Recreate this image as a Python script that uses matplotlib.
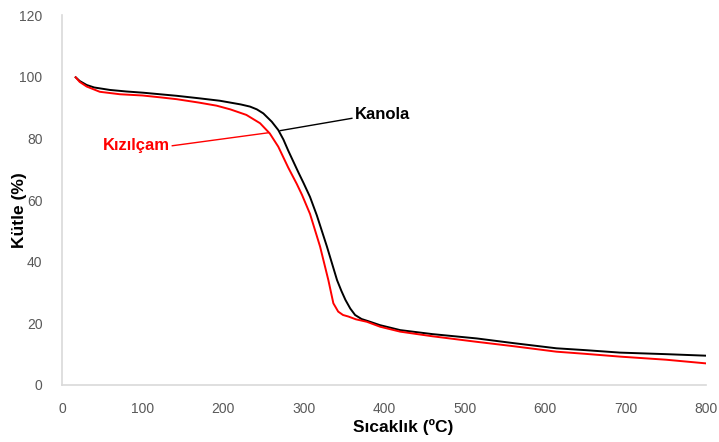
import matplotlib
matplotlib.use("Agg")
import matplotlib.pyplot as plt

plt.rcParams['font.family'] = ['Liberation Sans', 'DejaVu Sans']

kanola_T = [17, 22, 30.7, 40, 59.6, 80, 101, 142.5, 170, 196, 209, 222, 233.5, 242, 250, 260.5, 268.6, 275, 281, 293.5, 300, 308, 316.5, 329, 341.6, 347, 352, 358, 364, 372, 382.6, 395, 420, 460, 515, 560, 614, 650, 693, 750, 800]
kanola_m = [99.8, 98.6, 97.3, 96.5, 95.7, 95.2, 94.8, 93.8, 93.0, 92.2, 91.6, 91.0, 90.3, 89.4, 88.1, 85.4, 82.7, 79.6, 76.0, 69.0, 65.5, 61.0, 55.0, 44.9, 34.0, 30.5, 27.6, 24.8, 22.7, 21.4, 20.5, 19.4, 17.8, 16.5, 15.1, 13.6, 11.9, 11.3, 10.5, 10.0, 9.5]

kizil_T = [17, 22, 30.7, 47, 72, 100, 122, 142.5, 170, 192, 209, 229, 246, 258, 268.6, 281, 291.6, 298, 308, 320.5, 330.8, 337, 343, 349, 355.7, 365, 378.6, 395, 420, 460, 515, 560, 614, 650, 693, 750, 800]
kizil_m = [99.8, 98.3, 96.8, 95.1, 94.3, 93.9, 93.3, 92.7, 91.6, 90.6, 89.4, 87.6, 84.9, 81.6, 77.3, 70.5, 65.2, 61.7, 55.5, 44.9, 34.0, 26.5, 23.8, 22.7, 22.2, 21.3, 20.5, 18.9, 17.3, 15.8, 14.0, 12.6, 10.8, 10.1, 9.2, 8.2, 7.0]

x_ticks = [0, 100, 200, 300, 400, 500, 600, 700, 800]
y_ticks = [0, 20, 40, 60, 80, 100, 120]

fig = plt.figure(figsize=(7.19, 4.42), dpi=100)
ax = fig.add_axes([0.0862, 0.129, 0.896, 0.837])

ax.plot(kanola_T, kanola_m, color='black', lw=1.4)
ax.plot(kizil_T, kizil_m, color='#ff0000', lw=1.4)

ax.set_xlim(0, 800)
ax.set_ylim(0, 120)
ax.set_xticks(x_ticks)
ax.set_yticks(y_ticks)
ax.tick_params(length=0, labelsize=10, colors='#595959')
ax.tick_params(axis='x', pad=12)
ax.tick_params(axis='y', pad=14)

for s in ['top', 'right']:
    ax.spines[s].set_visible(False)
for s in ['left', 'bottom']:
    ax.spines[s].set_color('#d9d9d9')
    ax.spines[s].set_linewidth(1.2)

ax.set_xlabel('Sıcaklık (ºC)', fontsize=12.5, fontweight='bold')
ax.set_ylabel('Kütle (%)', fontsize=12.5, fontweight='bold')
ax.xaxis.set_label_coords(0.53, -0.092)
ax.yaxis.set_label_coords(-0.054, 0.473)

# annotations
ax.plot([271, 360], [82.5, 86.5], color='black', lw=1)
ax.text(364, 87.8, 'Kanola', fontsize=12, fontweight='bold', color='black', va='center', ha='left')
ax.plot([256, 137], [81.8, 77.6], color='#ff0000', lw=1)
ax.text(134, 77.6, 'Kızılçam', fontsize=12, fontweight='bold', color='#ff0000', va='center', ha='right')

fig.savefig('out.png', dpi=100)
